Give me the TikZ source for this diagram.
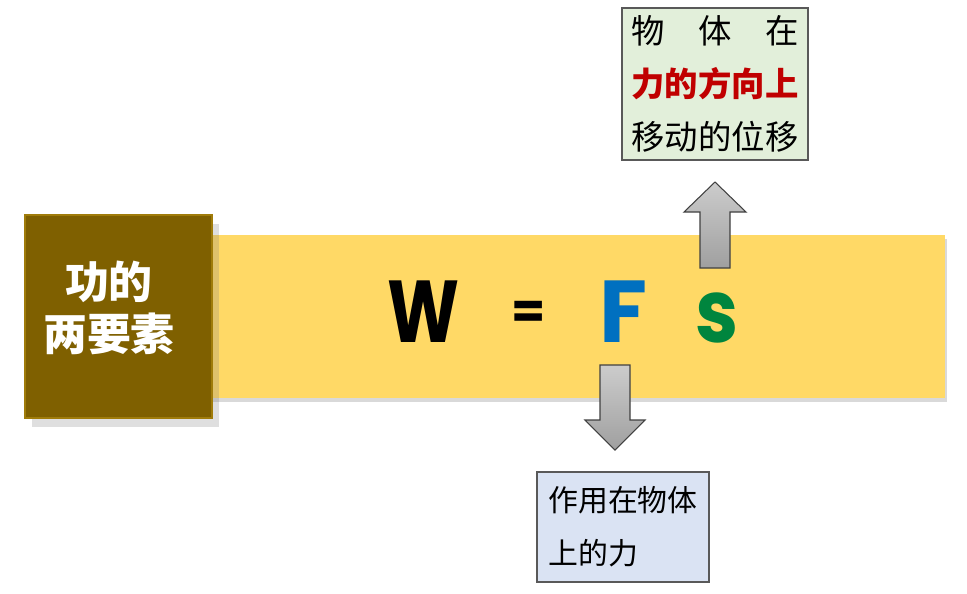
\documentclass[tikz,border=0pt]{standalone}
\usepackage{fontspec}
\setmainfont{Noto Sans CJK SC}
\newfontfamily\eqfont{Poppins}
\usetikzlibrary{positioning,shadows}

\definecolor{barYellow}{HTML}{FFD966}
\definecolor{boxBrown}{HTML}{7F6000}
\definecolor{bevelBrown}{HTML}{A07C0A}
\definecolor{fBlue}{HTML}{0070C0}
\definecolor{sGreen}{HTML}{00853E}
\definecolor{noteGreen}{HTML}{E2EFDA}
\definecolor{noteBlue}{HTML}{DAE3F3}
\definecolor{keyRed}{HTML}{C00000}

\begin{document}
\begin{tikzpicture}[x=0.02cm, y=-0.02cm,
    barnode/.style={rectangle, fill=barYellow, inner sep=0pt,
        minimum width=14.8cm, minimum height=3.26cm,
        drop shadow={opacity=0.3, shadow xshift=1pt, shadow yshift=-2pt}},
    titlenode/.style={rectangle, fill=boxBrown, draw=bevelBrown, line width=1.5pt,
        minimum width=3.74cm, minimum height=4.06cm,
        drop shadow={opacity=0.25, shadow xshift=4pt, shadow yshift=-5pt}},
    notenode/.style={rectangle, draw=black!65, line width=0.6pt, inner sep=0pt},
    eqnode/.style={font=\eqfont\bfseries\fontsize{50}{50}\selectfont, inner sep=0pt, anchor=base},
    blockarrow/.style={shade, top color=gray!40, bottom color=gray!75, draw=black!75, line width=0.6pt}
    ]
        \useasboundingbox (0,0) rectangle (967,593);

        %Boxes
        \node[barnode]  (bar)   at (575,316.5) {};
        \node[titlenode] (title) at (118.5,316.5) {};
        \node[text=white, font=\bfseries\fontsize{25}{29.5}\selectfont, align=center]
            (titletext) at (109,308) {功的\\两要素};

        %Formula
        \node[eqnode]               (w)  at (424,342) {\scalebox{0.78}[1]{W}};
        \node[eqnode, anchor=center, font=\eqfont\bfseries\fontsize{28}{28}\selectfont]
                                    (eq) at (529,315) {=};
        \node[eqnode, text=fBlue]   (f)  at (624,342) {F};
        \node[eqnode, text=sGreen]  (s)  at (717,342) {\scalebox{0.88}[1]{s}};

        %Notes
        \node[notenode, fill=noteGreen, minimum width=3.72cm, minimum height=3.04cm,
            align=center, font=\fontsize{19}{30}\selectfont]
            (topnote) at (715,84)
            {\makebox[5em][s]{物\hfill 体\hfill 在}\\{\color{keyRed}\bfseries 力的方向上}\\移动的位移};
        \node[notenode, fill=noteBlue, minimum width=3.44cm, minimum height=2.2cm,
            align=left, font=\fontsize{17}{30}\selectfont]
            (botnote) at (623,527) {作用在物体\\上的力};

        %Arrows
        \coordinate (upbase)   at (715,268);
        \coordinate (downbase) at (615,365);
        \path[blockarrow] (upbase) ++(-15,0) -- ++(0,-56) -- ++(-16,0) -- ++(31,-30)
            -- ++(31,30) -- ++(-16,0) -- ++(0,56) -- cycle;
        \path[blockarrow] (downbase) ++(-15,0) -- ++(0,55) -- ++(-15,0) -- ++(30,30)
            -- ++(30,-30) -- ++(-15,0) -- ++(0,-55) -- cycle;
    \end{tikzpicture}
\end{document}
